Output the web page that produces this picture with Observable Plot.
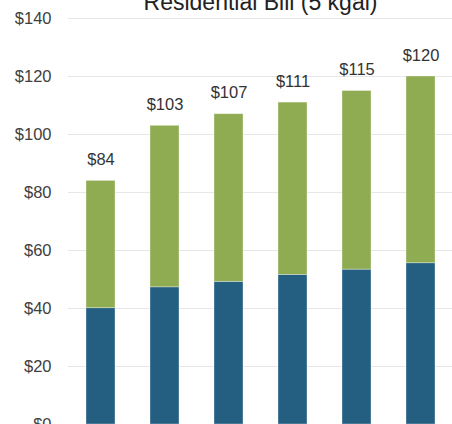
<!DOCTYPE html>
<html>
<head>
<meta charset="utf-8">
<script src="https://cdn.jsdelivr.net/npm/d3@7"></script>
<script src="https://cdn.jsdelivr.net/npm/@observablehq/plot@0.6"></script>
<style>
  html, body { margin: 0; padding: 0; background: #fff; overflow: hidden; }
  #chart svg { display: block; }
</style>
</head>
<body>
<div id="chart"></div>
<script>
const title = "Residential Bill (5 kgal)";
const categories = ["Year 1", "Year 2", "Year 3", "Year 4", "Year 5", "Year 6"];
const baseCharge = [40.1, 47.3, 49.2, 51.6, 53.4, 55.6];
const totalBill = [84, 103, 107, 111, 115, 120];
const yTicks = [0, 20, 40, 60, 80, 100, 120, 140];
const seriesNames = ["Fixed", "Usage"];
const seriesColors = ["#245E80", "#8FAC52"];

const rows = [];
categories.forEach((c, i) => {
  rows.push({cat: c, series: seriesNames[0], value: baseCharge[i]});
  rows.push({cat: c, series: seriesNames[1], value: totalBill[i] - baseCharge[i]});
});
const totals = categories.map((c, i) => ({cat: c, total: totalBill[i]}));

const font = "'Liberation Sans', Arial, sans-serif";

const chart = Plot.plot({
  width: 452,
  height: 424,
  marginTop: 18,
  marginBottom: 0,
  marginLeft: 68,
  marginRight: 0,
  style: {fontFamily: font, fontSize: "16.5px", color: "#404040", background: "#fff"},
  x: {domain: categories, paddingInner: 0.55, paddingOuter: 0.275, axis: null},
  y: {domain: [0, 140], ticks: yTicks, tickFormat: d => "$" + d, label: null, tickSize: 0, tickPadding: 17},
  color: {domain: seriesNames, range: seriesColors},
  marks: [
    Plot.gridY(yTicks, {stroke: "#e6e6e6", strokeOpacity: 1, strokeWidth: 1}),
    Plot.axisY(yTicks, {tickSize: 0, tickPadding: 17, tickFormat: d => "$" + d, label: null, fill: "#404040", fontSize: "16.5px"}),
    Plot.barY(rows, Plot.stackY({x: "cat", y: "value", fill: "series", order: seriesNames, stroke: "#ffffff", strokeOpacity: 0.45, strokeWidth: 0.75})),
    Plot.text(totals, {x: "cat", y: "total", text: d => "$" + d.total, lineAnchor: "bottom", dy: -16, fill: "#333", fontSize: "16.5px"}),
    Plot.text([title], {frameAnchor: "top", lineAnchor: "bottom", dy: -9, fontSize: "23px", fill: "#222", text: d => d})
  ]
});
document.getElementById("chart").appendChild(chart);
</script>
</body>
</html>
